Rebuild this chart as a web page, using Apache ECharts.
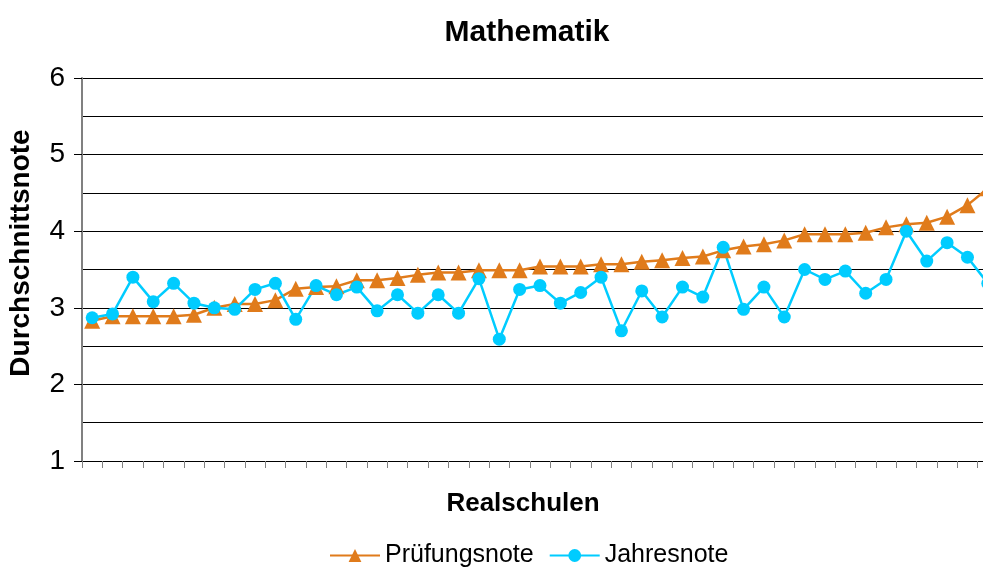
<!DOCTYPE html>
<html>
<head>
<meta charset="utf-8">
<script src="https://cdn.jsdelivr.net/npm/echarts@6/dist/echarts.min.js"></script>
<style>
    html, body { margin: 0; padding: 0; background: #fff; }
    #chart { width: 983px; height: 570px; }
</style>
</head>
<body>
<div id="chart"></div>
<script>
    // Realschulen, nach Prüfungsnote sortiert
    const schools = Array.from({ length: 45 }, (_, i) => 'R' + (i + 1));
    const pruefungsnote = [2.83, 2.89, 2.89, 2.89, 2.89, 2.91, 3.0, 3.05, 3.05, 3.1, 3.25, 3.27, 3.28, 3.36, 3.36,
        3.39, 3.43, 3.46, 3.46, 3.49, 3.49, 3.49, 3.54, 3.54, 3.54, 3.57, 3.57, 3.6, 3.62, 3.65,
        3.67, 3.75, 3.8, 3.83, 3.88, 3.96, 3.96, 3.96, 3.98, 4.05, 4.09, 4.11, 4.19, 4.34, 4.56];
    const jahresnote = [2.87, 2.92, 3.4, 3.08, 3.32, 3.06, 3.0, 2.98, 3.24, 3.32, 2.85, 3.29, 3.17, 3.27, 2.96,
        3.17, 2.93, 3.17, 2.93, 3.38, 2.59, 3.24, 3.29, 3.06, 3.2, 3.4, 2.7, 3.22, 2.88, 3.27,
        3.14, 3.79, 2.98, 3.27, 2.88, 3.5, 3.37, 3.48, 3.19, 3.37, 4.0, 3.61, 3.85, 3.66, 3.32];

    const font = '"Liberation Sans", Arial, sans-serif';
    const orange = '#E07B1B';
    const blue = '#00CCFF';

    const chart = echarts.init(document.getElementById('chart'));
    chart.setOption({
        animation: false,
        textStyle: { fontFamily: font },
        title: [
            {
                text: 'Mathematik',
                left: 522, top: 13,
                textAlign: 'center',
                textStyle: { fontFamily: font, fontSize: 30, fontWeight: 'bold', color: '#000' }
            },
            {
                text: 'Realschulen',
                left: 518, top: 486,
                textAlign: 'center',
                textStyle: { fontFamily: font, fontSize: 26, fontWeight: 'bold', color: '#000' }
            }
        ],
        graphic: [{
            type: 'text',
            x: 21, y: 253,
            rotation: Math.PI / 2,
            style: {
                text: 'Durchschnittsnote',
                font: 'bold 28px ' + font,
                fill: '#000',
                align: 'center',
                verticalAlign: 'middle'
            }
        }],
        legend: {
            bottom: -3,
            left: 324,
            itemWidth: 50,
            itemHeight: 16,
            itemGap: 15,
            textStyle: { fontFamily: font, fontSize: 25, color: '#000' },
            data: ['Prüfungsnote', 'Jahresnote']
        },
        grid: {
            left: 82,
            top: 78,
            bottom: 109,
            width: 916,
            containLabel: false,
            outerBoundsMode: 'none'
        },
        xAxis: {
            type: 'category',
            data: schools,
            boundaryGap: true,
            axisLine: { show: true, lineStyle: { color: '#000', width: 1 } },
            axisTick: { show: true, interval: 0, length: 7, lineStyle: { color: '#808080' } },
            axisLabel: { show: false, interval: 0 },
            splitLine: { show: false }
        },
        yAxis: {
            type: 'value',
            min: 1,
            max: 6,
            interval: 1,
            axisLine: { show: true, lineStyle: { color: '#808080', width: 2 } },
            axisTick: { show: true, length: 8, lineStyle: { color: '#000' } },
            axisLabel: { fontFamily: font, fontSize: 28, color: '#000', margin: 17 },
            splitLine: { show: true, lineStyle: { color: '#000', width: 1 } },
            minorTick: { show: false, splitNumber: 2 },
            minorSplitLine: { show: true, lineStyle: { color: '#000', width: 1 } }
        },
        series: [
            {
                name: 'Prüfungsnote',
                type: 'line',
                data: pruefungsnote,
                symbol: 'triangle',
                symbolSize: 16,
                showAllSymbol: true,
                lineStyle: { color: orange, width: 2.5 },
                itemStyle: { color: orange }
            },
            {
                name: 'Jahresnote',
                type: 'line',
                data: jahresnote,
                symbol: 'circle',
                symbolSize: 13,
                showAllSymbol: true,
                lineStyle: { color: blue, width: 2.5 },
                itemStyle: { color: blue }
            }
        ]
    });
</script>
</body>
</html>
